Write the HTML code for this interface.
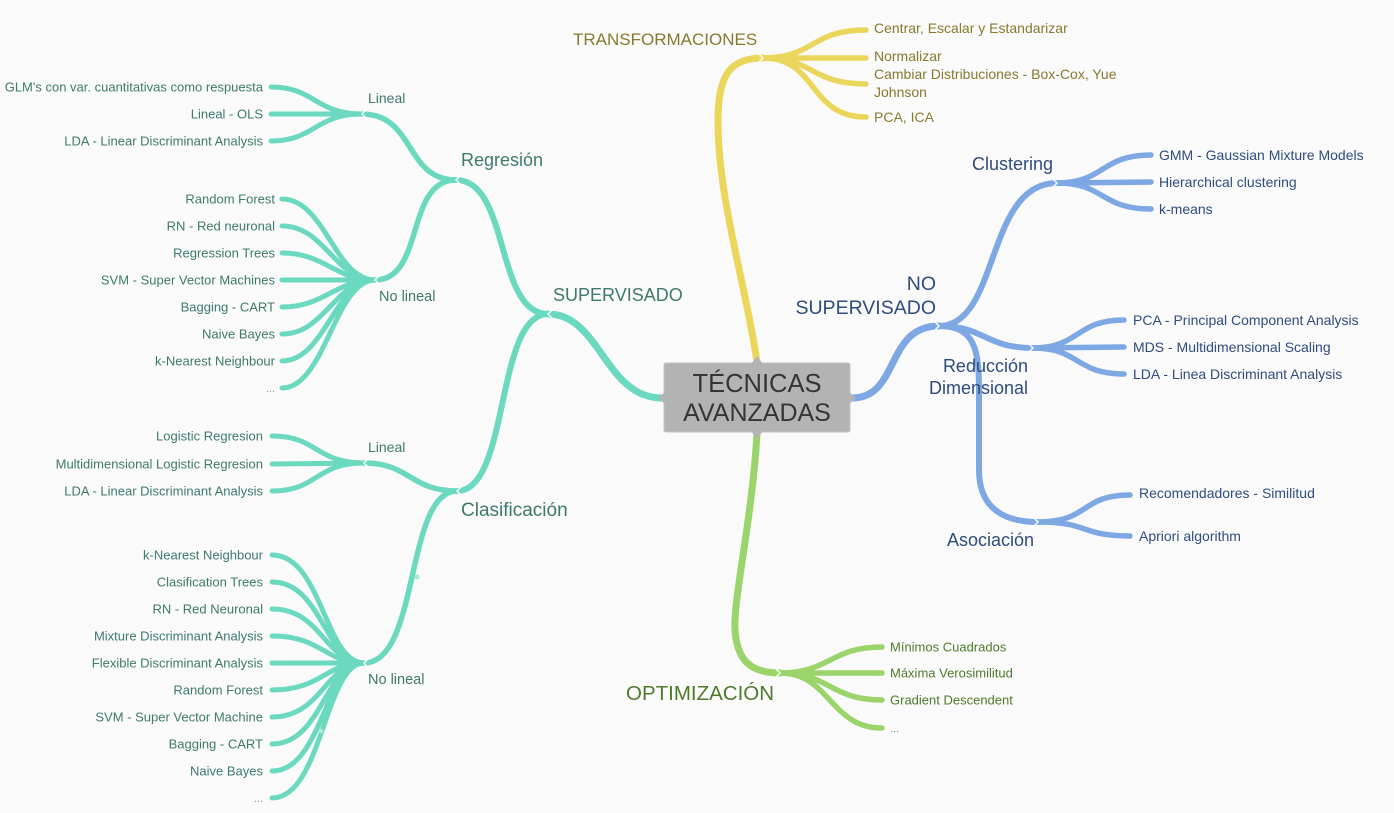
<!DOCTYPE html>
<html><head><meta charset="utf-8"><style>
html,body{margin:0;padding:0;background:#fafafa;}
svg{display:block;}
text{font-family:"Liberation Sans",Arial,sans-serif;}
.t{fill:#3d7a6c;} .y{fill:#877a2e;} .b{fill:#2f4c7e;} .g{fill:#4e7a2c;}
</style></head><body>
<svg width="1394" height="813" viewBox="0 0 1394 813" xmlns="http://www.w3.org/2000/svg">
<rect width="1394" height="813" fill="#fafafa"/>
<g fill="none" stroke-linecap="round">
<!-- TEAL -->
<g stroke="#6bd8c0">
<path d="M662,398 C605,398 600,314 548,314" stroke-width="7"/>
<path d="M548,314 C495,314 510,180 456,180" stroke-width="6"/>
<path d="M548,314 C495,314 510,491 457,491" stroke-width="6"/>
<path d="M456,180 C405,180 415,114 362,114" stroke-width="5.5"/>
<path d="M456,180 C405,180 425,280 375,280" stroke-width="5.5"/>
<path d="M457,491 C410,491 410,463 364,463" stroke-width="5.5"/>
<path d="M457,491 C405,491 420,663 364,663" stroke-width="5.5"/>
<g stroke-width="5">
<path d="M362,114 C315,114 315,87 271,87"/>
<path d="M362,114 L271,114"/>
<path d="M362,114 C315,114 315,141 271,141"/>
<path d="M375,280 C335,280 325,199 282,199"/>
<path d="M375,280 C335,280 325,226 282,226"/>
<path d="M375,280 C335,280 325,253 282,253"/>
<path d="M375,280 L282,280"/>
<path d="M375,280 C335,280 325,307 282,307"/>
<path d="M375,280 C335,280 325,334 282,334"/>
<path d="M375,280 C335,280 325,361 282,361"/>
<path d="M375,280 C335,280 325,388 282,388"/>
<path d="M364,463 C315,463 318,436 272,436"/>
<path d="M364,463 L272,464"/>
<path d="M364,463 C315,463 318,491 272,491"/>
<path d="M364,663 C325,663 322,555 272,555"/>
<path d="M364,663 C325,663 322,582 272,582"/>
<path d="M364,663 C325,663 322,609 272,609"/>
<path d="M364,663 C325,663 322,636 272,636"/>
<path d="M364,663 L272,663"/>
<path d="M364,663 C325,663 322,690 272,690"/>
<path d="M364,663 C325,663 322,717 272,717"/>
<path d="M364,663 C325,663 322,744 272,744"/>
<path d="M364,663 C325,663 322,771 272,771"/>
<path d="M364,663 C325,663 322,798 272,798"/>
</g>
</g>
<!-- YELLOW -->
<g stroke="#ebd65c">
<path d="M757,362 C745,280 718,200 718,120 C718,75 730,58 763,58" stroke-width="7"/>
<g stroke-width="5.5">
<path d="M763,58 C815,58 810,30 866,30"/>
<path d="M763,58 L866,58"/>
<path d="M763,58 C815,58 810,84 866,84"/>
<path d="M763,58 C818,58 808,117 866,117"/>
</g>
</g>
<!-- BLUE -->
<g stroke="#7ea8e4">
<path d="M852,398 C900,398 885,326 939,326" stroke-width="7"/>
<path d="M939,326 C1000,326 985,183 1057,183" stroke-width="6"/>
<path d="M939,326 C985,326 985,348 1033,348" stroke-width="6"/>
<path d="M939,326 C975,326 979,350 979,390 L979,470 C979,505 1000,522 1038,522" stroke-width="6"/>
<g stroke-width="5.5">
<path d="M1057,183 C1105,183 1100,155 1151,155"/>
<path d="M1057,183 L1151,182"/>
<path d="M1057,183 C1105,183 1100,209 1151,209"/>
<path d="M1033,348 C1080,348 1075,320 1124,320"/>
<path d="M1033,348 L1124,347"/>
<path d="M1033,348 C1080,348 1075,374 1124,374"/>
<path d="M1038,522 C1090,522 1080,495 1130,495"/>
<path d="M1038,522 C1090,522 1080,536 1130,536"/>
</g>
</g>
<!-- GREEN -->
<g stroke="#9bd46a">
<path d="M757,434 C752,520 733,600 735,630 C737,660 750,673 780,673" stroke-width="7"/>
<g stroke-width="5.5">
<path d="M780,673 C830,673 830,647 882,647"/>
<path d="M780,673 L882,673"/>
<path d="M780,673 C830,673 830,700 882,700"/>
<path d="M780,673 C830,673 830,728 882,728"/>
</g>
</g>
</g>
<!-- junction chevrons -->
<g fill="none" stroke="#ffffff" stroke-width="1.5" opacity="0.9">
<polyline points="552,310 548,314 552,318"/>
<polyline points="460,176 456,180 460,184"/>
<polyline points="461,487 457,491 461,495"/>
<polyline points="366,110 362,114 366,118"/>
<polyline points="379,276 375,280 379,284"/>
<polyline points="368,459 364,463 368,467"/>
<polyline points="368,659 364,663 368,667"/>
<polyline points="759,54 763,58 759,62"/>
<polyline points="935,322 939,326 935,330"/>
<polyline points="1053,179 1057,183 1053,187"/>
<polyline points="1029,344 1033,348 1029,352"/>
<polyline points="1034,518 1038,522 1034,526"/>
<polyline points="776,669 780,673 776,677"/>
</g>
<circle cx="417" cy="577" r="2.5" fill="#a8e8d8"/>
<circle cx="321" cy="731" r="2.5" fill="#a8e8d8"/>
<!-- center node -->
<rect x="664" y="363" width="186" height="69" rx="2" fill="#b3b3b3" stroke="#c6c6c6" stroke-width="1"/>
<polygon points="751,364 757,356 763,364" fill="#b3b3b3"/>
<polygon points="751,431 757,439 763,431" fill="#b3b3b3"/>
<polygon points="665,392 658,398 665,404" fill="#b3b3b3"/>
<polygon points="849,392 856,398 849,404" fill="#b3b3b3"/>
<text x="757" y="392" font-size="25.5" fill="#353535" text-anchor="middle">TÉCNICAS</text>
<text x="757" y="421" font-size="25" fill="#353535" text-anchor="middle">AVANZADAS</text>

<!-- TEAL labels -->
<text class="t" x="553" y="301" font-size="18">SUPERVISADO</text>
<text class="t" x="461" y="166" font-size="18">Regresión</text>
<text class="t" x="461" y="516" font-size="19">Clasificación</text>
<text class="t" x="368" y="103" font-size="14">Lineal</text>
<text class="t" x="379" y="301" font-size="14.5">No lineal</text>
<text class="t" x="368" y="452" font-size="14">Lineal</text>
<text class="t" x="368" y="684" font-size="14.5">No lineal</text>
<g class="t" font-size="13" text-anchor="end">
<text x="263" y="91.5">GLM's con var. cuantitativas como respuesta</text>
<text x="263" y="118.5">Lineal - OLS</text>
<text x="263" y="145.5">LDA - Linear Discriminant Analysis</text>
<text x="275" y="203.5">Random Forest</text>
<text x="275" y="230.5">RN - Red neuronal</text>
<text x="275" y="257.5">Regression Trees</text>
<text x="275" y="284.5">SVM - Super Vector Machines</text>
<text x="275" y="311.5">Bagging - CART</text>
<text x="275" y="338.5">Naive Bayes</text>
<text x="275" y="365.5">k-Nearest Neighbour</text>
<text x="275" y="392" font-size="11" opacity="0.7">...</text>
<text x="263" y="440.5">Logistic Regresion</text>
<text x="263" y="468.5">Multidimensional Logistic Regresion</text>
<text x="263" y="495.5">LDA - Linear Discriminant Analysis</text>
<text x="263" y="559.5">k-Nearest Neighbour</text>
<text x="263" y="586.5">Clasification Trees</text>
<text x="263" y="613.5">RN - Red Neuronal</text>
<text x="263" y="640.5">Mixture Discriminant Analysis</text>
<text x="263" y="667.5">Flexible Discriminant Analysis</text>
<text x="263" y="694.5">Random Forest</text>
<text x="263" y="721.5">SVM - Super Vector Machine</text>
<text x="263" y="748.5">Bagging - CART</text>
<text x="263" y="775.5">Naive Bayes</text>
<text x="263" y="802" font-size="11" opacity="0.7">...</text>
</g>

<!-- YELLOW labels -->
<text class="y" x="573" y="45" font-size="17">TRANSFORMACIONES</text>
<g class="y" font-size="14">
<text x="874" y="33">Centrar, Escalar y Estandarizar</text>
<text x="874" y="61">Normalizar</text>
<text x="874" y="79">Cambiar Distribuciones - Box-Cox, Yue</text>
<text x="874" y="97">Johnson</text>
<text x="874" y="122">PCA, ICA</text>
</g>

<!-- BLUE labels -->
<g class="b" text-anchor="end">
<text x="936" y="290" font-size="19.5">NO</text>
<text x="936" y="314" font-size="19.5">SUPERVISADO</text>
<text x="1028" y="372" font-size="18">Reducción</text>
<text x="1028" y="394" font-size="18">Dimensional</text>
</g>
<text class="b" x="972" y="170" font-size="18">Clustering</text>
<text class="b" x="947" y="546" font-size="18">Asociación</text>
<g class="b" font-size="14" fill="#34548a">
<text x="1159" y="160">GMM - Gaussian Mixture Models</text>
<text x="1159" y="187">Hierarchical clustering</text>
<text x="1159" y="214">k-means</text>
<text x="1133" y="325">PCA - Principal Component Analysis</text>
<text x="1133" y="352">MDS - Multidimensional Scaling</text>
<text x="1133" y="379">LDA - Linea Discriminant Analysis</text>
<text x="1139" y="498">Recomendadores - Similitud</text>
<text x="1139" y="541">Apriori algorithm</text>
</g>

<!-- GREEN labels -->
<text class="g" x="626" y="700" font-size="20.5">OPTIMIZACIÓN</text>
<g class="g" font-size="13">
<text x="890" y="651.5">Mínimos Cuadrados</text>
<text x="890" y="677.5">Máxima Verosimilitud</text>
<text x="890" y="704.5">Gradient Descendent</text>
<text x="890" y="732" font-size="11" opacity="0.7">...</text>
</g>
</svg>
</body></html>
